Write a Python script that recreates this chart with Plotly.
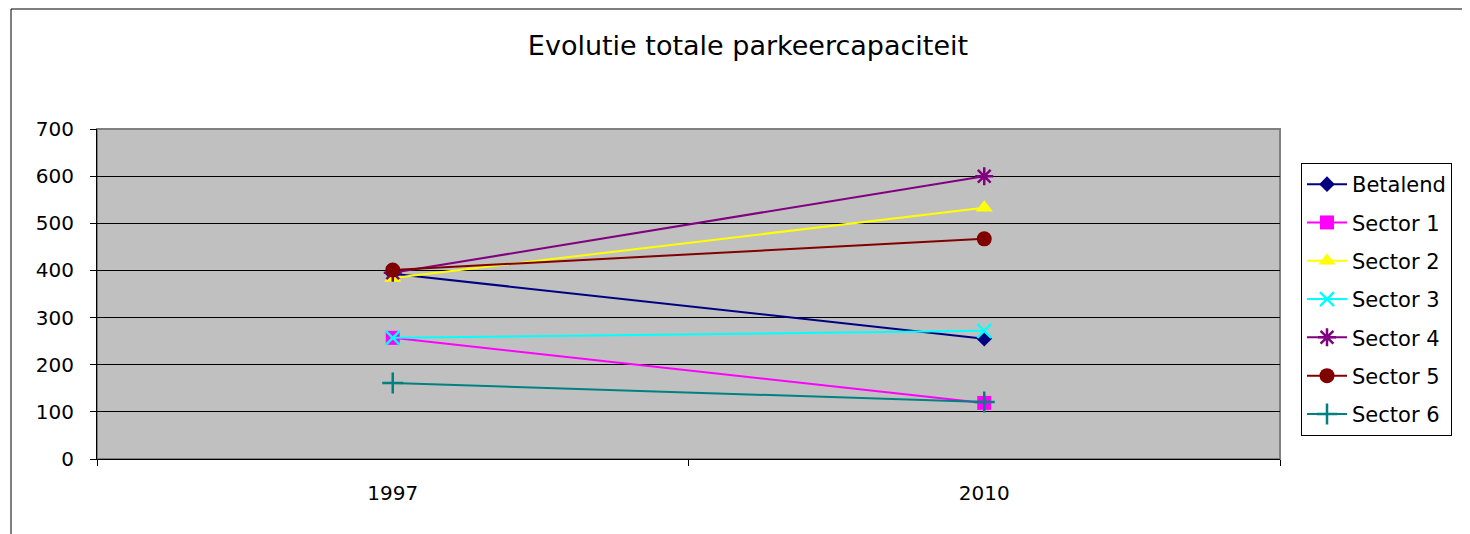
import plotly.graph_objects as go

years = ["1997", "2010"]
series_names = ["Betalend", "Sector 1", "Sector 2", "Sector 3", "Sector 4", "Sector 5", "Sector 6"]
betalend = [393, 255]
sector1 = [257, 119]
sector2 = [384, 533]
sector3 = [257, 272]
sector4 = [395, 600]
sector5 = [401, 467]
sector6 = [161, 121]
y_ticks = [0, 100, 200, 300, 400, 500, 600, 700]

values = [betalend, sector1, sector2, sector3, sector4, sector5, sector6]
colors = ["#000080", "#FF00FF", "#FFFF00", "#00FFFF", "#800080", "#800000", "#008080"]
symbols = ["diamond", "square", "triangle-up", "x-thin", "asterisk", "circle", "cross-thin"]
sizes = [12, 14, 15, 14, 15, 15, 15]

FONT = "DejaVu Sans"
OFF = 8  # page body offset

fig = go.Figure()
for i, (name, vals) in enumerate(zip(series_names, values)):
    thin = symbols[i] in ("x-thin", "asterisk", "cross-thin")
    fig.add_trace(go.Scatter(
        x=years, y=vals, name=name, mode="lines+markers",
        legendgroup=name,
        line=dict(color=colors[i], width=2),
        marker=dict(symbol=symbols[i], size=sizes[i], color=colors[i],
                    line=dict(color=colors[i], width=2.5 if thin else 0)),
    ))

W, H = 1470 - OFF, 534 - OFF
L, T = 97 - OFF, 129 - OFF
R, B = 190, 75
pw = W - L - R
ph = H - T - B

fig.update_layout(
    width=W, height=H,
    margin=dict(l=L, r=R, t=T, b=B),
    paper_bgcolor="white",
    plot_bgcolor="#C0C0C0",
    font=dict(family=FONT, size=20, color="black"),
    title=dict(text="Evolutie totale parkeercapaciteit", x=(748 - OFF) / W, xanchor="center",
               y=1 - (46 - OFF) / H, yanchor="middle",
               font=dict(family=FONT, size=27, color="black")),
    showlegend=True,
    legend=dict(x=(1301 - 97) / pw, xanchor="left", y=(459 - 163) / ph, yanchor="top",
                bgcolor="white", bordercolor="black", borderwidth=1,
                font=dict(family=FONT, size=21, color="black"),
                tracegroupgap=8, itemwidth=40),
    xaxis=dict(type="category", range=[-0.5, 1.5], tickson="boundaries",
               ticks="outside", ticklen=6, tickcolor="black", showgrid=False,
               showline=True, linecolor="black", linewidth=1, zeroline=False,
               ticklabelstandoff=16),
    yaxis=dict(range=[0, 700], tickvals=y_ticks, ticks="outside", ticklen=6,
               tickcolor="black", showgrid=True, gridcolor="black", gridwidth=1,
               showline=True, linecolor="black", linewidth=1, zeroline=False,
               ticklabelstandoff=12),
)

# plot area border (top/right, grey as in Excel)
fig.add_shape(type="rect", xref="paper", yref="paper", x0=0, x1=1, y0=0, y1=1,
              line=dict(color="#808080", width=2), layer="below")
# outer chart frame
fig.add_shape(type="rect", xref="paper", yref="paper",
              x0=(11 - 97) / pw, x1=(W + 40 - L) / pw,
              y0=-(B + 40) / ph, y1=(459 - 9) / ph,
              line=dict(color="black", width=1))

fig.write_html("out.html")
